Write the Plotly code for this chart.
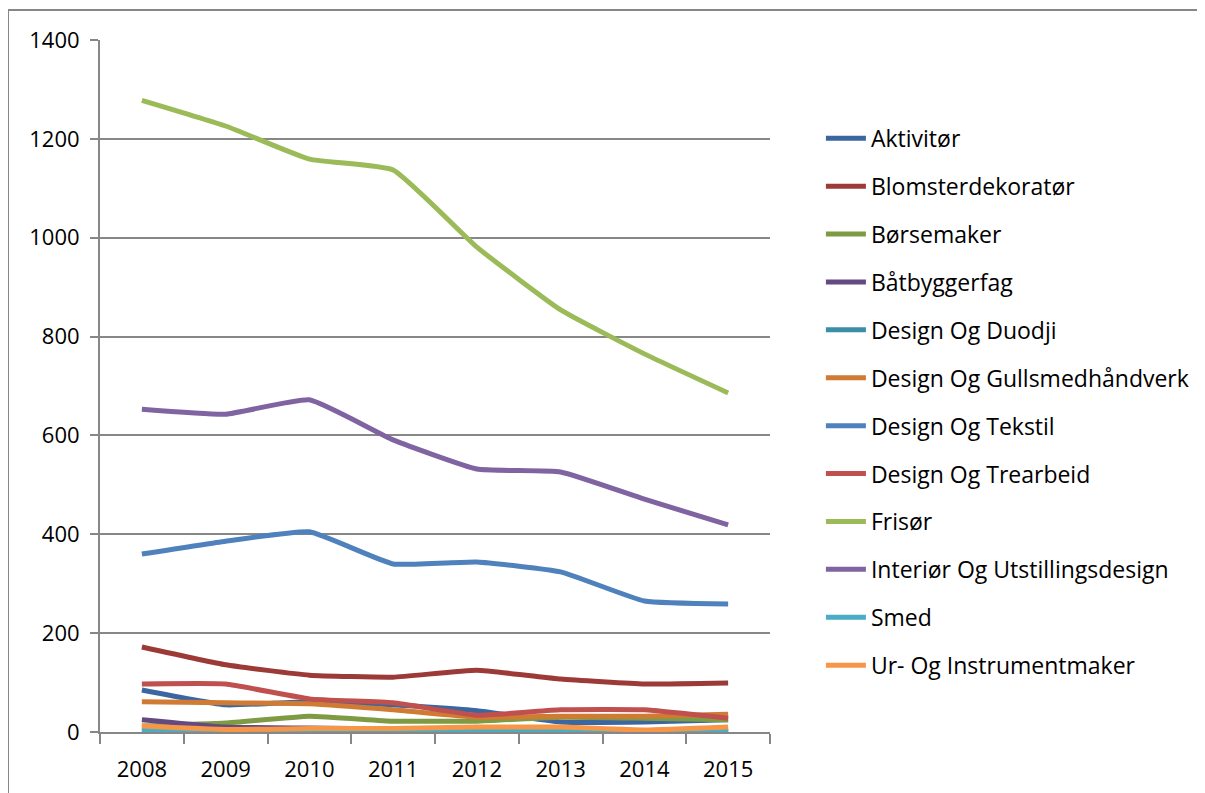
import plotly.graph_objects as go

years = ["2008", "2009", "2010", "2011", "2012", "2013", "2014", "2015"]

aktivitor = [85, 55, 61, 55, 43, 20, 20, 25]
blomsterdekorator = [172, 136, 115, 111, 125, 107, 97, 99]
borsemaker = [12, 18, 32, 22, 22, 30, 28, 25]
batbyggerfag = [25, 10, 8, 6, 3, 1, 1, 1]
design_duodji = [2, 1, 2, 2, 3, 2, 1, 1]
design_gullsmed = [61, 59, 57, 45, 30, 32, 32, 36]
design_tekstil = [360, 386, 405, 340, 344, 324, 265, 259]
design_trearbeid = [97, 97, 67, 59, 34, 45, 45, 28]
frisor = [1278, 1226, 1159, 1137, 981, 854, 765, 686]
interior = [653, 643, 672, 591, 532, 526, 471, 419]
smed = [3, 1, 1, 2, 3, 3, 1, 2]
ur_instrument = [12, 5, 7, 7, 10, 10, 4, 10]

series = [
    ("Aktivitør", aktivitor, "#3B67A0"),
    ("Blomsterdekoratør", blomsterdekorator, "#9C3A37"),
    ("Børsemaker", borsemaker, "#7E9B43"),
    ("Båtbyggerfag", batbyggerfag, "#654A82"),
    ("Design Og Duodji", design_duodji, "#3A8EA6"),
    ("Design Og Gullsmedhåndverk", design_gullsmed, "#D07A33"),
    ("Design Og Tekstil", design_tekstil, "#4F81BD"),
    ("Design Og Trearbeid", design_trearbeid, "#C0504D"),
    ("Frisør", frisor, "#9BBB59"),
    ("Interiør Og Utstillingsdesign", interior, "#8064A2"),
    ("Smed", smed, "#4BACC6"),
    ("Ur- Og Instrumentmaker", ur_instrument, "#F79646"),
]

fig = go.Figure()
for i, (name, vals, col) in enumerate(series):
    fig.add_trace(go.Scatter(
        x=years, y=vals, name=name, mode="lines",
        line=dict(color=col, width=5, shape="spline", smoothing=0.4),
        legendgroup=f"g{i}",
    ))

font = dict(family="Open Sans", size=22, color="#000000")

L, T, PW, PH = 92, 32, 670, 692
fig.update_layout(
    width=1205, height=793,
    margin=dict(l=L, r=1205 - L - PW, t=T, b=793 - T - PH),
    paper_bgcolor="white", plot_bgcolor="white",
    font=font,
    showlegend=True,
    legend=dict(x=1.076, xanchor="left", y=0.889, yanchor="top",
                font=dict(family="Open Sans", size=23, color="#000000"),
                tracegroupgap=15, bgcolor="rgba(0,0,0,0)",
                itemwidth=40),
    xaxis=dict(type="category", showgrid=False, showline=True,
               range=[-0.5, 7.5],
               linecolor="#878787", linewidth=2, ticks="outside",
               tickson="boundaries", ticklen=10, tickcolor="#878787",
               tickwidth=2, tickfont=font, ticklabelstandoff=17),
    yaxis=dict(range=[0, 1400], dtick=200, showgrid=True,
               gridcolor="#878787", gridwidth=1.5, showline=True,
               linecolor="#878787", linewidth=2, ticks="outside",
               ticklen=8, tickcolor="#878787", tickwidth=2,
               tickfont=font, zeroline=False, ticklabelstandoff=6),
    shapes=[dict(type="rect", xref="paper", yref="paper",
                 x0=(0 - L) / PW, x1=(1205 - 8 - L) / PW,
                 y0=-(793 - T - PH) / PH, y1=1 + (T - 2) / PH,
                 line=dict(color="#878787", width=2),
                 fillcolor="rgba(0,0,0,0)", layer="below")],
)

fig.write_html("out.html")
